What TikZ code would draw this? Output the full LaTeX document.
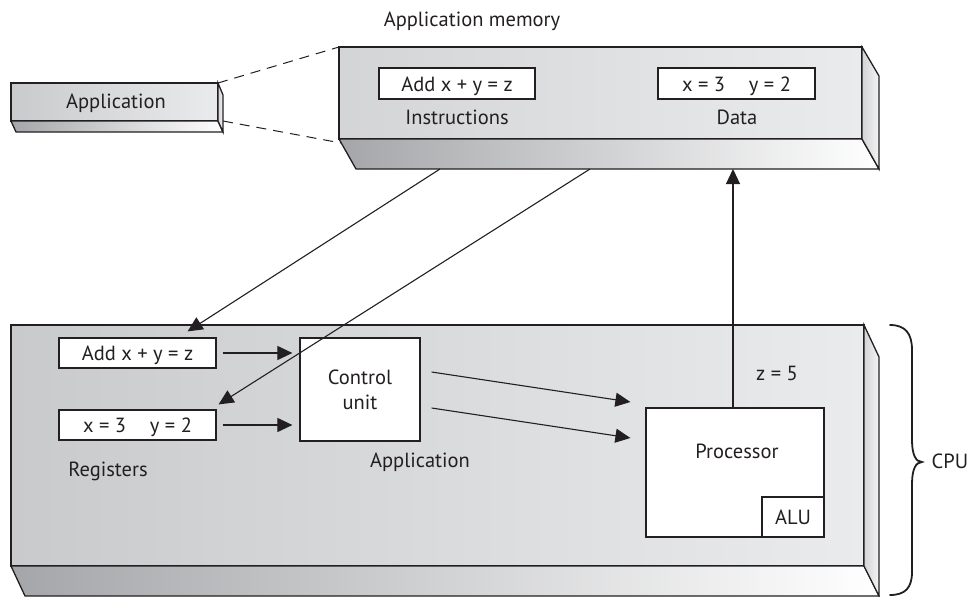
\documentclass[tikz,border=0pt]{standalone}
\usepackage{fontspec}
\setmainfont{PT Sans}
\usetikzlibrary{arrows.meta,calc}
\definecolor{ink}{HTML}{231F20}
\definecolor{frontL}{HTML}{C9CACC}
\definecolor{frontR}{HTML}{EAEBEC}
\definecolor{slabL}{HTML}{A5A6A9}
\definecolor{slabM}{HTML}{B2B3B6}
\definecolor{sideL}{HTML}{D3D4D6}
\definecolor{sideR}{HTML}{F3F3F4}
\tikzset{
  face/.style={draw=ink, line width=1.3pt, line join=miter},
  frontface/.style={face, left color=frontL, right color=frontR},
  slabface/.style={face, left color=slabL, middle color=slabM, right color=white},
  sideface/.style={face, left color=sideL, right color=sideR},
  box/.style={draw=ink, fill=white, line width=1.2pt, inner sep=0pt,
              text height=15pt, text depth=0pt, font=\fontsize{20.5}{25}\selectfont, text=ink},
  lbl/.style={font=\fontsize{20.5}{25}\selectfont, text=ink, inner sep=0pt, anchor=base},
  arr/.style={draw=ink, line width=1.1pt, -{Triangle[length=15pt,width=14pt]}},
  dashln/.style={draw=ink, line width=1pt, dash pattern=on 10pt off 7pt},
  bracepath/.style={draw=ink, line width=1.8pt, line cap=round}
}
\begin{document}
\begin{tikzpicture}[x=1pt,y=-1pt]
\useasboundingbox (0,0) rectangle (980,597);

% ---------- Application (small slab) ----------
\path[frontface] (11,83) rectangle (218,121);
\path[slabface] (11,121) -- (218,121) -- (223,132) -- (16,132) -- cycle;
\path[sideface] (218,83) -- (223,95) -- (223,132) -- (218,121) -- cycle;
\node[lbl] (apptxt) at (116,108) {Application};
\coordinate (appTR) at (218,83);
\coordinate (appBR) at (223,121);

% ---------- Application memory ----------
\path[frontface, left color=frontL!80!white] (339,47) rectangle (862,139);
\path[slabface] (339,139) -- (862,139) -- (879,169) -- (356,169) -- cycle;
\path[sideface] (862,47) -- (879,76) -- (879,169) -- (862,139) -- cycle;
\coordinate (memTL) at (339,47);
\coordinate (memBL) at (341,143);
\coordinate (m1) at (440,169);
\coordinate (m2) at (590,169);
\coordinate (m3) at (733,169);
\node[lbl] (memtitle) at (472,26) {Application memory};
\node[box, minimum width=156pt, minimum height=31pt] (minstr) at (457,83.5) {Add x + y = z};
\node[lbl] (instr) at (457,124) {Instructions};
\node[box, minimum width=157pt, minimum height=31pt] (mdata) at (736.5,83.5) {x = 3\hspace{0.9em} y = 2};
\node[lbl] (data) at (737,124) {Data};

\draw[dashln] (appTR) -- (memTL);
\draw[dashln] (appBR) -- (memBL);

% ---------- CPU ----------
\path[frontface] (11,325) rectangle (864,566);
\path[slabface] (11,566) -- (864,566) -- (879,596) -- (25,596) -- cycle;
\path[sideface] (864,325) -- (879,357) -- (879,596) -- (864,566) -- cycle;

\node[box, minimum width=157pt, minimum height=30pt] (regA) at (137.5,353) {Add x + y = z};
\node[box, minimum width=157pt, minimum height=30pt] (regX) at (137.5,425) {x = 3\hspace{0.9em} y = 2};
\node[lbl] (regs) at (108,476) {Registers};

\node[box, minimum width=120pt, minimum height=103pt, align=center,
      text height=, text depth=, font=\fontsize{20.5}{25}\selectfont] (ctrl) at (360,389.5) {Control\\unit};
\node[lbl] (ctrlapp) at (420,467) {Application};

\node[box, minimum width=178pt, minimum height=129pt] (proc) at (735,472.5) {};
\node[lbl] (proctxt) at (737,458) {Processor};
\node[box, minimum width=62pt, minimum height=40pt] (alu) at (793,517) {ALU};
\node[lbl] (z5) at (777,380) {z = 5};

% ---------- connectors ----------
\draw[arr] (m1) -- ($(regA.north east)+(-29,-6)$);
\draw[arr] (m2) -- ($(regX.north east)+(2,-5)$);
\draw[arr, shorten <=6pt, shorten >=7pt] (regA.east) -- (regA.east -| ctrl.west);
\draw[arr, shorten <=6pt, shorten >=7pt] (regX.east) -- (regX.east -| ctrl.west);
\draw[arr] ($(ctrl.east)+(11,-17.5)$) -- ($(proc.west)+(-15,-70.5)$);
\draw[arr] ($(ctrl.east)+(11,18.5)$) -- ($(proc.west)+(-15,-34.5)$);
\draw[arr] ($(proc.north)+(-2,0)$) -- (m3);

% ---------- brace ----------
\draw[bracepath] (890,325) .. controls (905,325) and (912,333) .. (912,350)
  -- (912,440) .. controls (912,455) and (916,462) .. (922,462)
  .. controls (916,462) and (912,469) .. (912,484)
  -- (912,572) .. controls (912,588) and (905,595) .. (890,595);
\node[lbl] (cpu) at (950,468) {CPU};
\end{tikzpicture}
\end{document}
